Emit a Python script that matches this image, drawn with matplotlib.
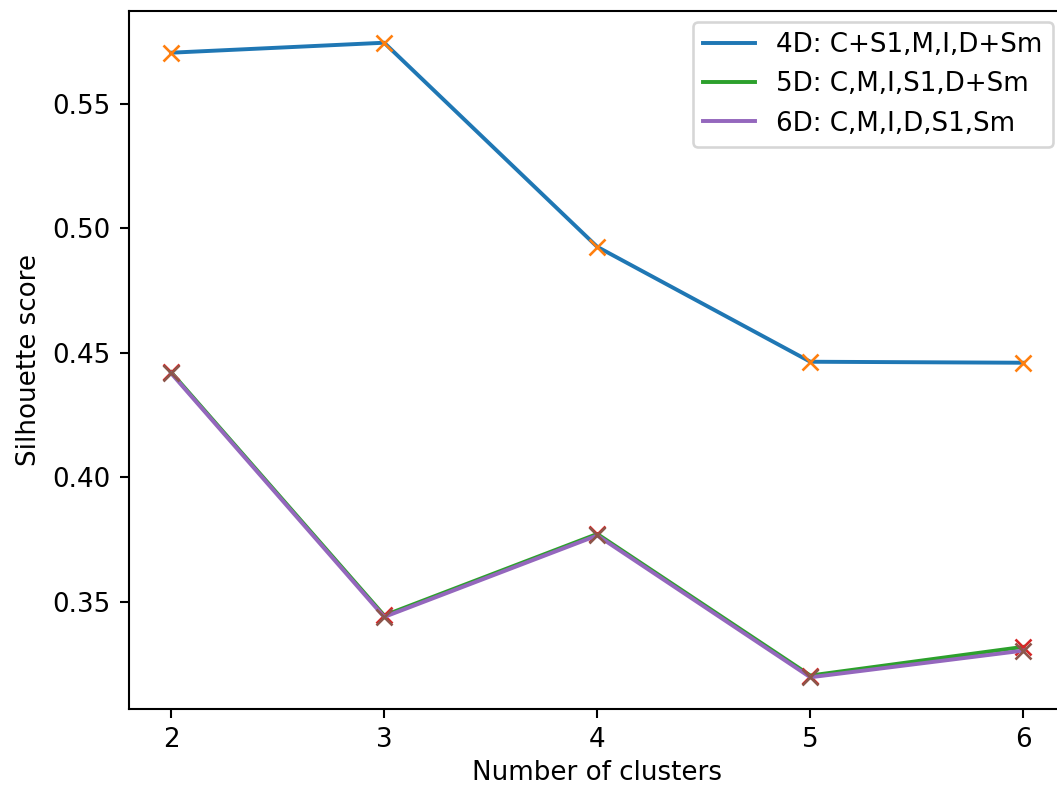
import numpy as np
import matplotlib
matplotlib.use("Agg")
import matplotlib.pyplot as plt

# silhouette score vs number of clusters for three feature sets
n_clusters = [2, 3, 4, 5, 6]
score_4d = [0.5704, 0.5744, 0.4925, 0.4464, 0.4460]
score_5d = [0.4422, 0.3446, 0.3773, 0.3205, 0.3320]
score_6d = [0.4418, 0.3440, 0.3767, 0.3198, 0.3305]
labels = ['4D: C+S1,M,I,D+Sm', '5D: C,M,I,S1,D+Sm', '6D: C,M,I,D,S1,Sm']

dpi = 188
W, H = 1057, 787
fig = plt.figure(figsize=(W / dpi, H / dpi), dpi=dpi)
# axes runs a little past the right edge of the canvas
x0, x1, y0, y1 = 128.5, 1066, 11, 709
ax = fig.add_axes([x0 / W, 1 - y1 / H, (x1 - x0) / W, (y1 - y0) / H])

for scores, lab in zip([score_4d, score_5d, score_6d], labels):
    ax.plot(n_clusters, scores, label=lab)
    ax.plot(n_clusters, scores, 'x')

ax.set_xticks(n_clusters)
ax.set_xlabel('Number of clusters', labelpad=2.5)
ax.set_ylabel('Silhouette score')
ax.legend(loc='upper right', borderaxespad=0,
          bbox_to_anchor=((1053 - x0) / (x1 - x0), (y1 - 22) / (y1 - y0)))

fig.savefig('out.png', dpi=dpi)
